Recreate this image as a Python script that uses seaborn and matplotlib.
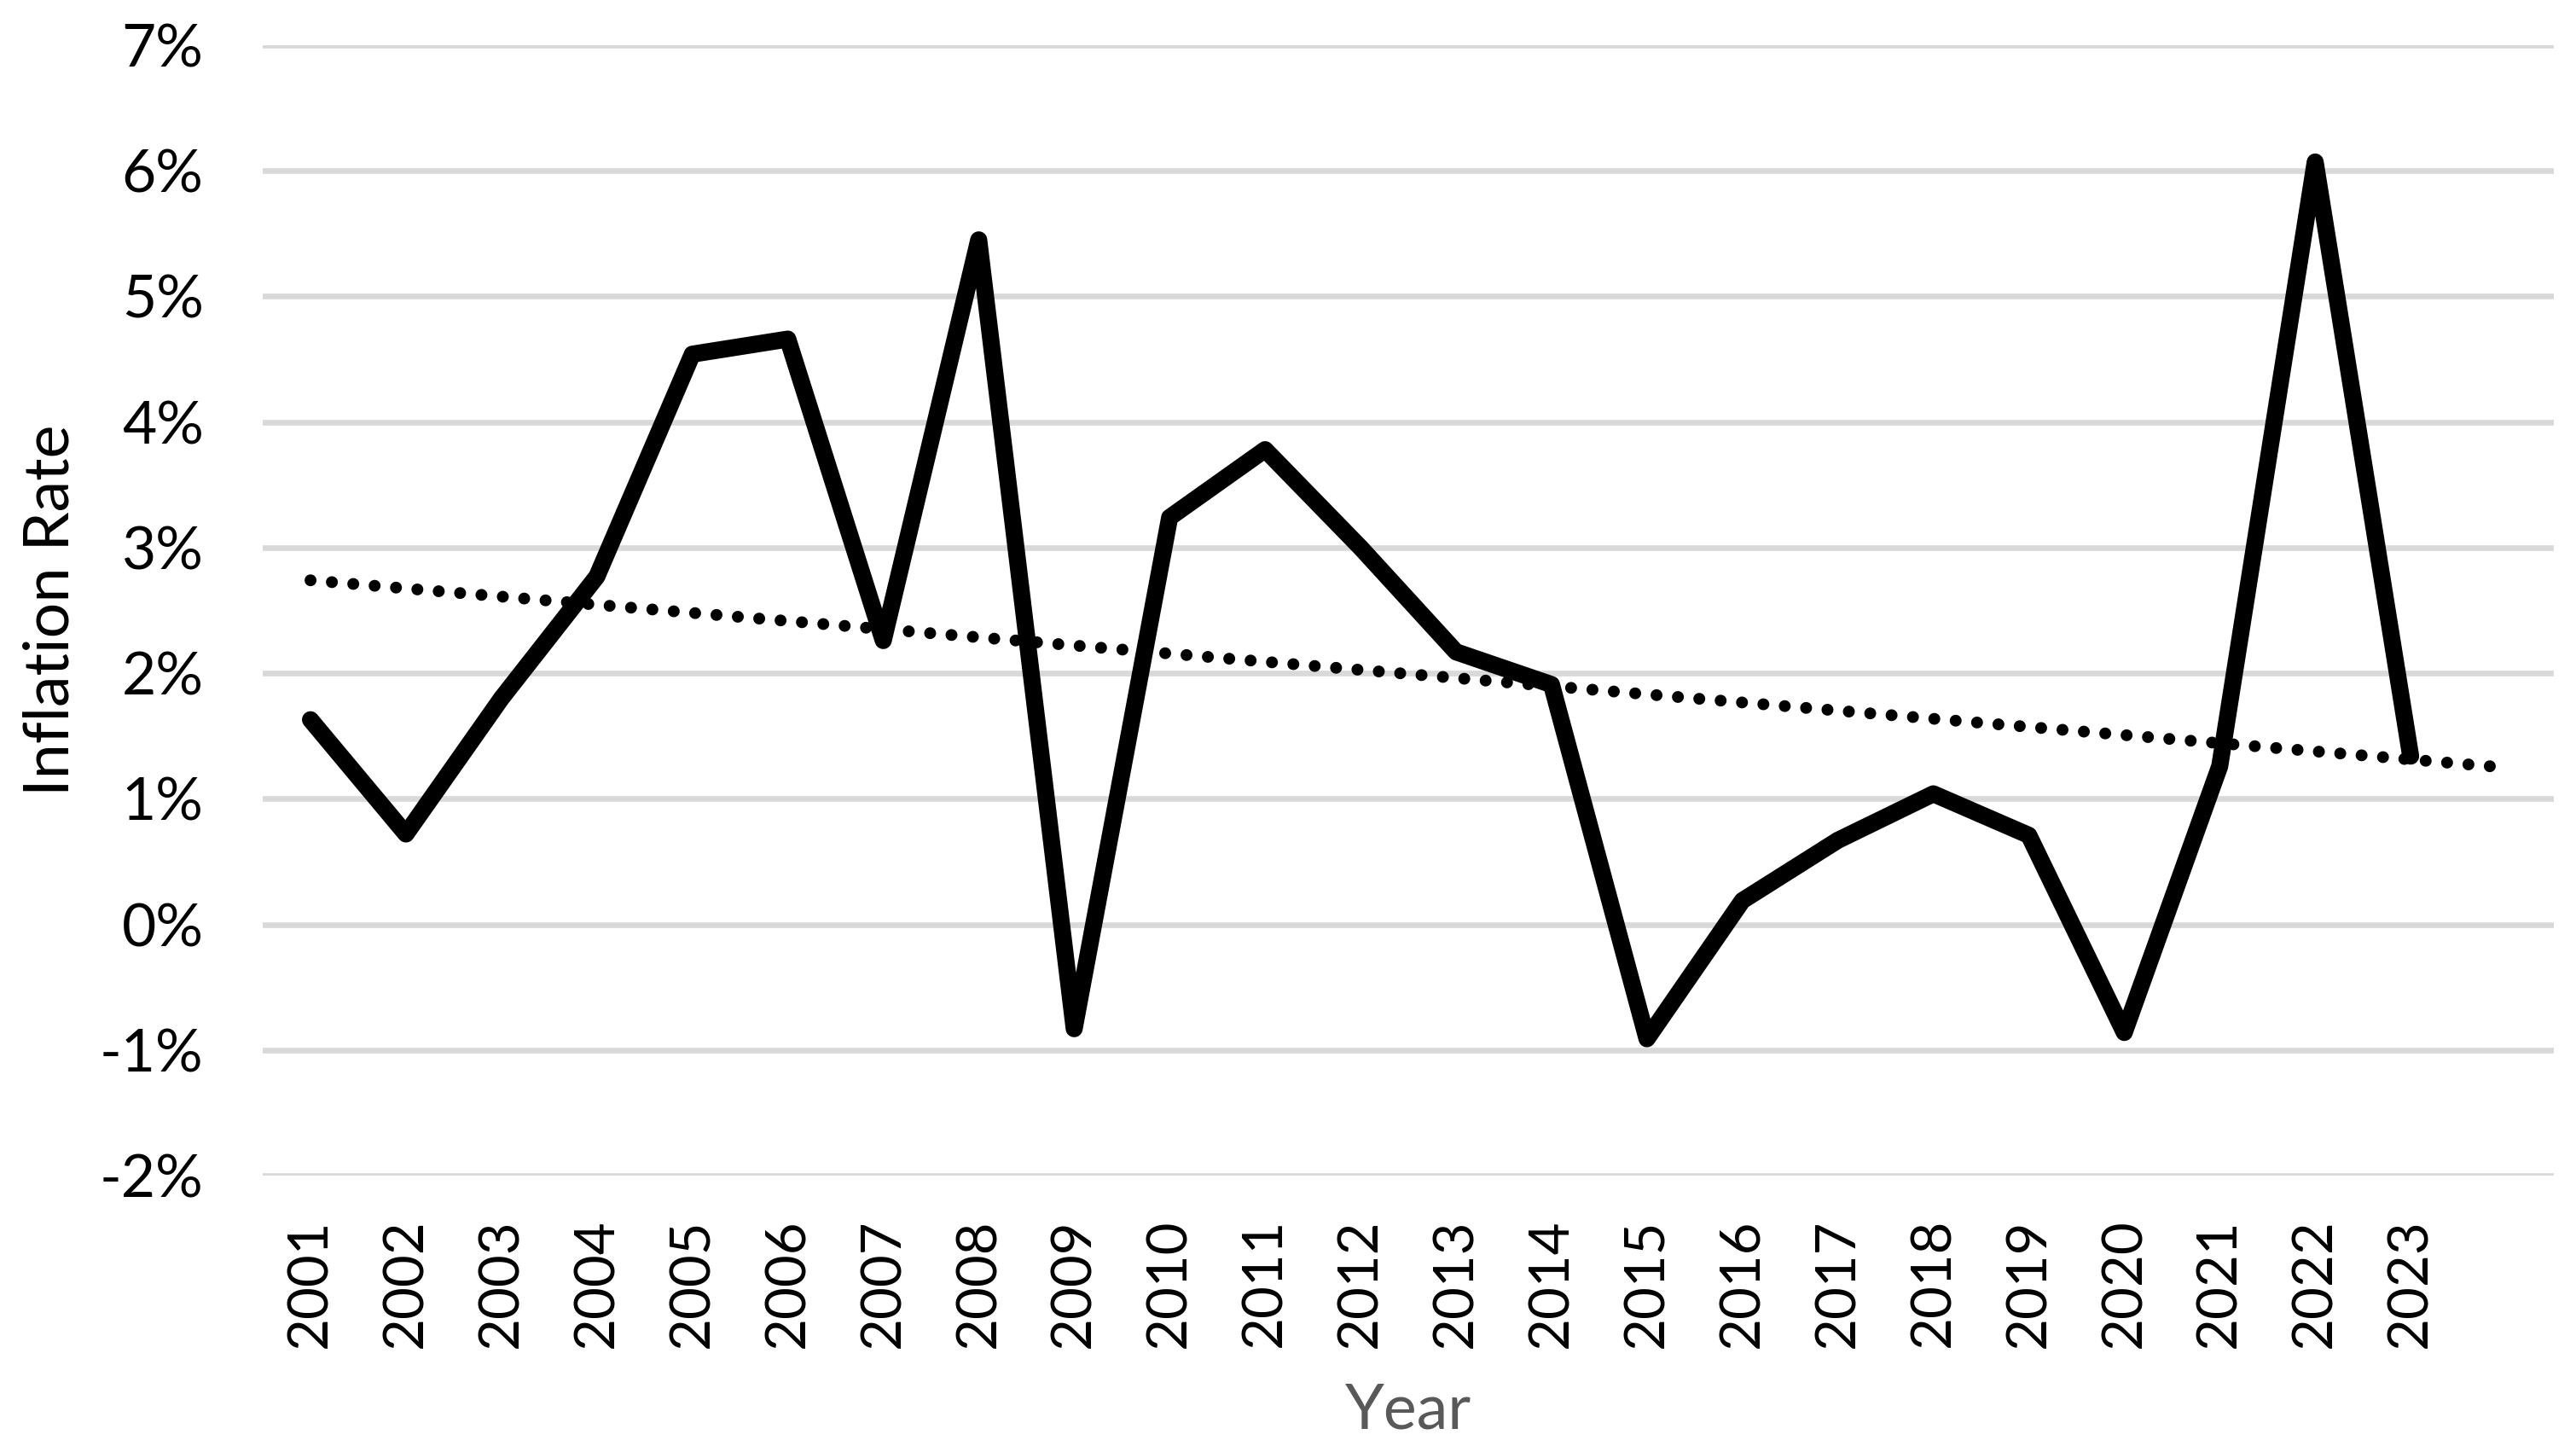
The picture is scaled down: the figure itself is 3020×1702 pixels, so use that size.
import numpy as np
import pandas as pd
import matplotlib.pyplot as plt
import seaborn as sns

# annual inflation rate, %
years = list(range(2001, 2024))
inflation = [1.63, 0.72, 1.80, 2.77, 4.54, 4.66, 2.26, 5.45, -0.83, 3.24, 3.78, 3.00,
             2.17, 1.91, -0.91, 0.19, 0.67, 1.04, 0.71, -0.86, 1.26, 6.07, 1.34]

y_ticks = list(range(-2, 8))
y_labels = [f"{v}%" for v in y_ticks]

sns.set_theme(style="white")
plt.rcParams['font.family'] = ['Lato', 'DejaVu Sans']

df = pd.DataFrame({"pos": range(len(years)), "year": years, "rate": inflation})

# linear trendline, forecast forward one period like Excel does
slope, icpt = np.polyfit(df["pos"], df["rate"], 1)
trend_x = np.array([0, len(years)])
trend = pd.DataFrame({"pos": trend_x, "rate": icpt + slope * trend_x})

fig = plt.figure(figsize=(15.1, 8.51), dpi=200)
ax = fig.add_axes([0.102, 0.1903, 0.8894, 0.7786])

sns.lineplot(data=df, x="pos", y="rate", color="black", linewidth=7.2,
             solid_joinstyle="round", solid_capstyle="round", ax=ax)
sns.lineplot(data=trend, x="pos", y="rate", color="black", linewidth=5,
             linestyle=(0, (0.01, 1.8)), dash_capstyle="round", ax=ax)

ax.set_xlim(-0.5, len(years) + 0.5)
ax.set_ylim(-2, 7)
ax.set_xticks(df["pos"])
ax.set_xticklabels(years, rotation=90)
ax.set_yticks(y_ticks)
ax.set_yticklabels(y_labels)

ax.grid(axis="y", color="#D9D9D9", linewidth=2.4)
ax.grid(axis="x", visible=False)
ax.set_axisbelow(True)
sns.despine(ax=ax, left=True, bottom=True)

ax.tick_params(axis="y", length=0, pad=25, labelsize=25, labelcolor="black")
ax.tick_params(axis="x", length=0, pad=18, labelsize=23.5, labelcolor="black")

ax.set_xlabel("Year", fontsize=26.5, color="#595959")
ax.set_ylabel("Inflation Rate", fontsize=26.5, color="black")
ax.xaxis.set_label_coords(0.5, -0.183)
ax.yaxis.set_label_coords(-0.08, 0.5)

fig.savefig("out.png", dpi=200)
